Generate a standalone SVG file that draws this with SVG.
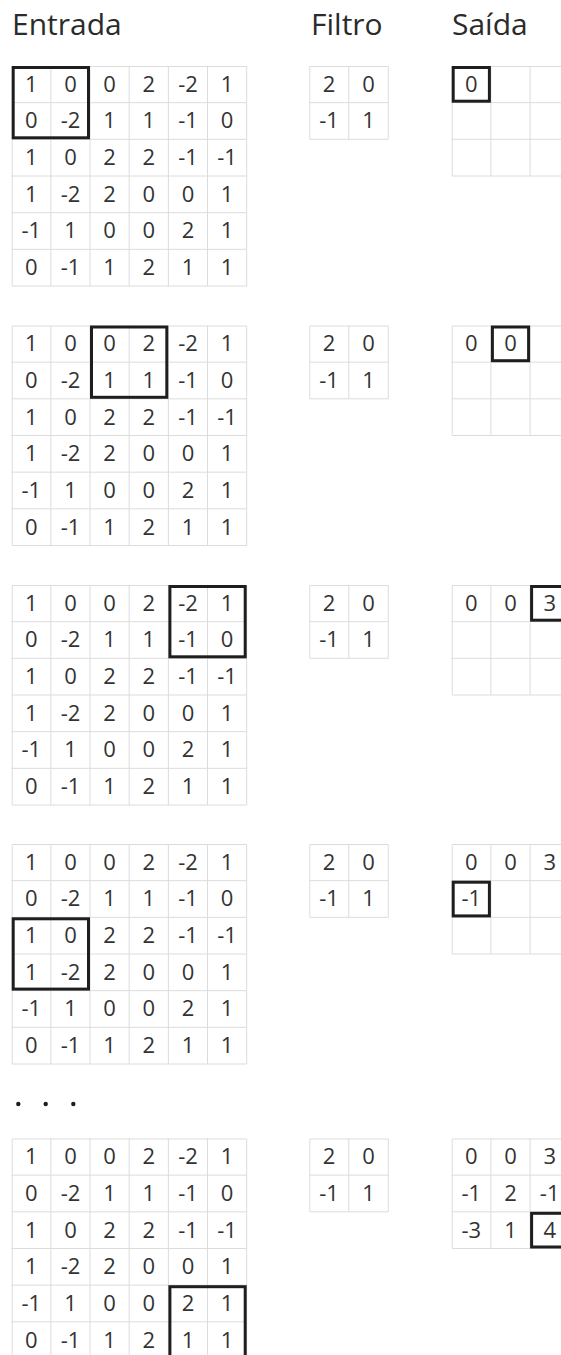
<svg xmlns="http://www.w3.org/2000/svg" width="561" height="1355" viewBox="0 0 561 1355">
<style>
.bg{fill:#ffffff}
.grid{fill:none;stroke:#dcdcdc;stroke-width:1}
.hl{fill:none;stroke:#1e1e1e;stroke-width:3}
.title{font-family:"Open Sans","Liberation Sans",sans-serif;font-size:30px;fill:#2b2b2b}
.n{font-family:"Open Sans","Liberation Sans",sans-serif;font-size:22px;fill:#333333;text-anchor:middle}
.dot{fill:#1e1e1e}
</style>
<defs>
<path id="ig" d="M0.5,0.5H235V220H0.5Z M39.17,0V220 M78.33,0V220 M117.5,0V220 M156.67,0V220 M195.83,0V220 M0,36.67H235 M0,73.33H235 M0,110H235 M0,146.67H235 M0,183.33H235"/>
<path id="fg" d="M0.5,0.5H79V73.33H0.5Z M39.5,0V73.33 M0,36.67H79"/>
<path id="og" d="M0.5,0.5H120V110H0.5Z M39.2,0V110 M78.4,0V110 M0,36.67H120 M0,73.33H120"/>
</defs>
<rect class="bg" x="0" y="0" width="561" height="1355"/>
<g id="titles">
<text class="title" x="12" y="35">Entrada</text>
<text class="title" x="311" y="35">Filtro</text>
<text class="title" x="452" y="35">Saída</text>
</g>

<!-- STEP 1 -->
<g id="input1" transform="translate(11.7,66)">
<use href="#ig" class="grid"/>
<text class="n" x="19.6" y="25.7">1</text><text class="n" x="58.8" y="25.7">0</text><text class="n" x="97.9" y="25.7">0</text><text class="n" x="137.1" y="25.7">2</text><text class="n" x="176.3" y="25.7">-2</text><text class="n" x="215.4" y="25.7">1</text>
<text class="n" x="19.6" y="62.4">0</text><text class="n" x="58.8" y="62.4">-2</text><text class="n" x="97.9" y="62.4">1</text><text class="n" x="137.1" y="62.4">1</text><text class="n" x="176.3" y="62.4">-1</text><text class="n" x="215.4" y="62.4">0</text>
<text class="n" x="19.6" y="99">1</text><text class="n" x="58.8" y="99">0</text><text class="n" x="97.9" y="99">2</text><text class="n" x="137.1" y="99">2</text><text class="n" x="176.3" y="99">-1</text><text class="n" x="215.4" y="99">-1</text>
<text class="n" x="19.6" y="135.7">1</text><text class="n" x="58.8" y="135.7">-2</text><text class="n" x="97.9" y="135.7">2</text><text class="n" x="137.1" y="135.7">0</text><text class="n" x="176.3" y="135.7">0</text><text class="n" x="215.4" y="135.7">1</text>
<text class="n" x="19.6" y="172.4">-1</text><text class="n" x="58.8" y="172.4">1</text><text class="n" x="97.9" y="172.4">0</text><text class="n" x="137.1" y="172.4">0</text><text class="n" x="176.3" y="172.4">2</text><text class="n" x="215.4" y="172.4">1</text>
<text class="n" x="19.6" y="209">0</text><text class="n" x="58.8" y="209">-1</text><text class="n" x="97.9" y="209">1</text><text class="n" x="137.1" y="209">2</text><text class="n" x="176.3" y="209">1</text><text class="n" x="215.4" y="209">1</text>
<rect class="hl" x="1.5" y="1.5" width="75.3" height="70.3"/>
</g>
<g id="filter1" transform="translate(309.3,66)">
<use href="#fg" class="grid"/>
<text class="n" x="19.75" y="25.7">2</text><text class="n" x="59.25" y="25.7">0</text>
<text class="n" x="19.75" y="62.4">-1</text><text class="n" x="59.25" y="62.4">1</text>
</g>
<g id="output1" transform="translate(451.7,66)">
<use href="#og" class="grid"/>
<text class="n" x="19.6" y="25.7">0</text>
<rect class="hl" x="1.5" y="1.5" width="36.2" height="33.7"/>
</g>

<!-- STEP 2 -->
<g id="input2" transform="translate(11.7,325.5)">
<use href="#ig" class="grid"/>
<text class="n" x="19.6" y="25.7">1</text><text class="n" x="58.8" y="25.7">0</text><text class="n" x="97.9" y="25.7">0</text><text class="n" x="137.1" y="25.7">2</text><text class="n" x="176.3" y="25.7">-2</text><text class="n" x="215.4" y="25.7">1</text>
<text class="n" x="19.6" y="62.4">0</text><text class="n" x="58.8" y="62.4">-2</text><text class="n" x="97.9" y="62.4">1</text><text class="n" x="137.1" y="62.4">1</text><text class="n" x="176.3" y="62.4">-1</text><text class="n" x="215.4" y="62.4">0</text>
<text class="n" x="19.6" y="99">1</text><text class="n" x="58.8" y="99">0</text><text class="n" x="97.9" y="99">2</text><text class="n" x="137.1" y="99">2</text><text class="n" x="176.3" y="99">-1</text><text class="n" x="215.4" y="99">-1</text>
<text class="n" x="19.6" y="135.7">1</text><text class="n" x="58.8" y="135.7">-2</text><text class="n" x="97.9" y="135.7">2</text><text class="n" x="137.1" y="135.7">0</text><text class="n" x="176.3" y="135.7">0</text><text class="n" x="215.4" y="135.7">1</text>
<text class="n" x="19.6" y="172.4">-1</text><text class="n" x="58.8" y="172.4">1</text><text class="n" x="97.9" y="172.4">0</text><text class="n" x="137.1" y="172.4">0</text><text class="n" x="176.3" y="172.4">2</text><text class="n" x="215.4" y="172.4">1</text>
<text class="n" x="19.6" y="209">0</text><text class="n" x="58.8" y="209">-1</text><text class="n" x="97.9" y="209">1</text><text class="n" x="137.1" y="209">2</text><text class="n" x="176.3" y="209">1</text><text class="n" x="215.4" y="209">1</text>
<rect class="hl" x="79.8" y="1.5" width="75.3" height="70.3"/>
</g>
<g id="filter2" transform="translate(309.3,325.5)">
<use href="#fg" class="grid"/>
<text class="n" x="19.75" y="25.7">2</text><text class="n" x="59.25" y="25.7">0</text>
<text class="n" x="19.75" y="62.4">-1</text><text class="n" x="59.25" y="62.4">1</text>
</g>
<g id="output2" transform="translate(451.7,325.5)">
<use href="#og" class="grid"/>
<text class="n" x="19.6" y="25.7">0</text><text class="n" x="58.8" y="25.7">0</text>
<rect class="hl" x="40.7" y="1.5" width="36.2" height="33.7"/>
</g>

<!-- STEP 3 -->
<g id="input3" transform="translate(11.7,585)">
<use href="#ig" class="grid"/>
<text class="n" x="19.6" y="25.7">1</text><text class="n" x="58.8" y="25.7">0</text><text class="n" x="97.9" y="25.7">0</text><text class="n" x="137.1" y="25.7">2</text><text class="n" x="176.3" y="25.7">-2</text><text class="n" x="215.4" y="25.7">1</text>
<text class="n" x="19.6" y="62.4">0</text><text class="n" x="58.8" y="62.4">-2</text><text class="n" x="97.9" y="62.4">1</text><text class="n" x="137.1" y="62.4">1</text><text class="n" x="176.3" y="62.4">-1</text><text class="n" x="215.4" y="62.4">0</text>
<text class="n" x="19.6" y="99">1</text><text class="n" x="58.8" y="99">0</text><text class="n" x="97.9" y="99">2</text><text class="n" x="137.1" y="99">2</text><text class="n" x="176.3" y="99">-1</text><text class="n" x="215.4" y="99">-1</text>
<text class="n" x="19.6" y="135.7">1</text><text class="n" x="58.8" y="135.7">-2</text><text class="n" x="97.9" y="135.7">2</text><text class="n" x="137.1" y="135.7">0</text><text class="n" x="176.3" y="135.7">0</text><text class="n" x="215.4" y="135.7">1</text>
<text class="n" x="19.6" y="172.4">-1</text><text class="n" x="58.8" y="172.4">1</text><text class="n" x="97.9" y="172.4">0</text><text class="n" x="137.1" y="172.4">0</text><text class="n" x="176.3" y="172.4">2</text><text class="n" x="215.4" y="172.4">1</text>
<text class="n" x="19.6" y="209">0</text><text class="n" x="58.8" y="209">-1</text><text class="n" x="97.9" y="209">1</text><text class="n" x="137.1" y="209">2</text><text class="n" x="176.3" y="209">1</text><text class="n" x="215.4" y="209">1</text>
<rect class="hl" x="158.2" y="1.5" width="75.3" height="70.3"/>
</g>
<g id="filter3" transform="translate(309.3,585)">
<use href="#fg" class="grid"/>
<text class="n" x="19.75" y="25.7">2</text><text class="n" x="59.25" y="25.7">0</text>
<text class="n" x="19.75" y="62.4">-1</text><text class="n" x="59.25" y="62.4">1</text>
</g>
<g id="output3" transform="translate(451.7,585)">
<use href="#og" class="grid"/>
<text class="n" x="19.6" y="25.7">0</text><text class="n" x="58.8" y="25.7">0</text><text class="n" x="98" y="25.7">3</text>
<rect class="hl" x="79.9" y="1.5" width="36.2" height="33.7"/>
</g>

<!-- STEP 4 -->
<g id="input4" transform="translate(11.7,844)">
<use href="#ig" class="grid"/>
<text class="n" x="19.6" y="25.7">1</text><text class="n" x="58.8" y="25.7">0</text><text class="n" x="97.9" y="25.7">0</text><text class="n" x="137.1" y="25.7">2</text><text class="n" x="176.3" y="25.7">-2</text><text class="n" x="215.4" y="25.7">1</text>
<text class="n" x="19.6" y="62.4">0</text><text class="n" x="58.8" y="62.4">-2</text><text class="n" x="97.9" y="62.4">1</text><text class="n" x="137.1" y="62.4">1</text><text class="n" x="176.3" y="62.4">-1</text><text class="n" x="215.4" y="62.4">0</text>
<text class="n" x="19.6" y="99">1</text><text class="n" x="58.8" y="99">0</text><text class="n" x="97.9" y="99">2</text><text class="n" x="137.1" y="99">2</text><text class="n" x="176.3" y="99">-1</text><text class="n" x="215.4" y="99">-1</text>
<text class="n" x="19.6" y="135.7">1</text><text class="n" x="58.8" y="135.7">-2</text><text class="n" x="97.9" y="135.7">2</text><text class="n" x="137.1" y="135.7">0</text><text class="n" x="176.3" y="135.7">0</text><text class="n" x="215.4" y="135.7">1</text>
<text class="n" x="19.6" y="172.4">-1</text><text class="n" x="58.8" y="172.4">1</text><text class="n" x="97.9" y="172.4">0</text><text class="n" x="137.1" y="172.4">0</text><text class="n" x="176.3" y="172.4">2</text><text class="n" x="215.4" y="172.4">1</text>
<text class="n" x="19.6" y="209">0</text><text class="n" x="58.8" y="209">-1</text><text class="n" x="97.9" y="209">1</text><text class="n" x="137.1" y="209">2</text><text class="n" x="176.3" y="209">1</text><text class="n" x="215.4" y="209">1</text>
<rect class="hl" x="1.5" y="74.8" width="75.3" height="70.3"/>
</g>
<g id="filter4" transform="translate(309.3,844)">
<use href="#fg" class="grid"/>
<text class="n" x="19.75" y="25.7">2</text><text class="n" x="59.25" y="25.7">0</text>
<text class="n" x="19.75" y="62.4">-1</text><text class="n" x="59.25" y="62.4">1</text>
</g>
<g id="output4" transform="translate(451.7,844)">
<use href="#og" class="grid"/>
<text class="n" x="19.6" y="25.7">0</text><text class="n" x="58.8" y="25.7">0</text><text class="n" x="98" y="25.7">3</text>
<text class="n" x="19.6" y="62.4">-1</text>
<rect class="hl" x="1.5" y="38.2" width="36.2" height="33.7"/>
</g>

<g id="ellipsis">
<circle class="dot" cx="18.3" cy="1104" r="2.2"/>
<circle class="dot" cx="45.7" cy="1104" r="2.2"/>
<circle class="dot" cx="73.3" cy="1104" r="2.2"/>
</g>

<!-- STEP 5 -->
<g id="input5" transform="translate(11.7,1138.5)">
<use href="#ig" class="grid"/>
<text class="n" x="19.6" y="25.7">1</text><text class="n" x="58.8" y="25.7">0</text><text class="n" x="97.9" y="25.7">0</text><text class="n" x="137.1" y="25.7">2</text><text class="n" x="176.3" y="25.7">-2</text><text class="n" x="215.4" y="25.7">1</text>
<text class="n" x="19.6" y="62.4">0</text><text class="n" x="58.8" y="62.4">-2</text><text class="n" x="97.9" y="62.4">1</text><text class="n" x="137.1" y="62.4">1</text><text class="n" x="176.3" y="62.4">-1</text><text class="n" x="215.4" y="62.4">0</text>
<text class="n" x="19.6" y="99">1</text><text class="n" x="58.8" y="99">0</text><text class="n" x="97.9" y="99">2</text><text class="n" x="137.1" y="99">2</text><text class="n" x="176.3" y="99">-1</text><text class="n" x="215.4" y="99">-1</text>
<text class="n" x="19.6" y="135.7">1</text><text class="n" x="58.8" y="135.7">-2</text><text class="n" x="97.9" y="135.7">2</text><text class="n" x="137.1" y="135.7">0</text><text class="n" x="176.3" y="135.7">0</text><text class="n" x="215.4" y="135.7">1</text>
<text class="n" x="19.6" y="172.4">-1</text><text class="n" x="58.8" y="172.4">1</text><text class="n" x="97.9" y="172.4">0</text><text class="n" x="137.1" y="172.4">0</text><text class="n" x="176.3" y="172.4">2</text><text class="n" x="215.4" y="172.4">1</text>
<text class="n" x="19.6" y="209">0</text><text class="n" x="58.8" y="209">-1</text><text class="n" x="97.9" y="209">1</text><text class="n" x="137.1" y="209">2</text><text class="n" x="176.3" y="209">1</text><text class="n" x="215.4" y="209">1</text>
<rect class="hl" x="158.2" y="148.2" width="75.3" height="70.3"/>
</g>
<g id="filter5" transform="translate(309.3,1138.5)">
<use href="#fg" class="grid"/>
<text class="n" x="19.75" y="25.7">2</text><text class="n" x="59.25" y="25.7">0</text>
<text class="n" x="19.75" y="62.4">-1</text><text class="n" x="59.25" y="62.4">1</text>
</g>
<g id="output5" transform="translate(451.7,1138.5)">
<use href="#og" class="grid"/>
<text class="n" x="19.6" y="25.7">0</text><text class="n" x="58.8" y="25.7">0</text><text class="n" x="98" y="25.7">3</text>
<text class="n" x="19.6" y="62.4">-1</text><text class="n" x="58.8" y="62.4">2</text><text class="n" x="98" y="62.4">-1</text>
<text class="n" x="19.6" y="99">-3</text><text class="n" x="58.8" y="99">1</text><text class="n" x="98" y="99">4</text>
<rect class="hl" x="79.9" y="74.8" width="36.2" height="33.7"/>
</g>
<g id="connectors"/>
</svg>
